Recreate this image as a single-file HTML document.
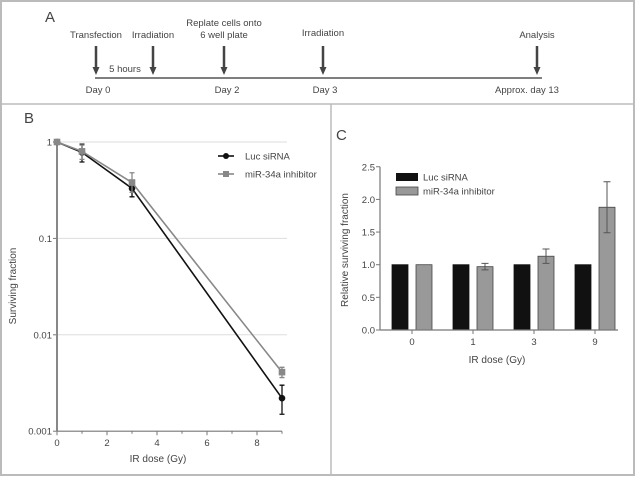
<!DOCTYPE html>
<html><head><meta charset="utf-8"><style>
body{margin:0;background:#fff}
svg{display:block;font-family:"Liberation Sans",sans-serif}
</style></head><body>
<svg id="fig" width="636" height="477" viewBox="0 0 636 477">
<rect x="1" y="1" width="633" height="474" fill="#fff" stroke="#bbb" stroke-width="2"/>
<line x1="1" y1="104" x2="635" y2="104" stroke="#bbb" stroke-width="1.5"/>
<line x1="331" y1="104" x2="331" y2="476" stroke="#bbb" stroke-width="1.5"/>
<g id="panelA" font-size="9.5" fill="#444" text-anchor="middle">
<text x="45" y="22" font-size="15" text-anchor="start">A</text>
<line x1="95" y1="78" x2="542" y2="78" stroke="#555" stroke-width="1.5"/>
</g>
<g id="panelB"></g>
<g id="panelC"></g>
</svg>
<script>
var NS="http://www.w3.org/2000/svg";
function mk(p,t,a,txt){var e=document.createElementNS(NS,t);for(var k in a)e.setAttribute(k,a[k]);if(txt!==undefined)e.textContent=txt;p.appendChild(e);return e;}

// ---------- Panel A: timeline ----------
var tlEvents=[["Transfection"],["Irradiation"],["Replate cells onto","6 well plate"],["Irradiation"],["Analysis"]];
var tlX=[96,153,224,323,537];
var dayLabels=["Day 0","Day 2","Day 3","Approx. day 13"];
var dayX=[98,227,325,527];
var A=document.getElementById('panelA');
tlEvents.forEach(function(lines,i){
  var x=tlX[i];
  var ln=mk(A,'line',{x1:x,y1:46,x2:x,y2:68,stroke:'#444','stroke-width':2.5});
  
  
  var hd=mk(A,'polygon',{points:(x-3.5)+',67 '+(x+3.5)+',67 '+x+',75',fill:'#444'});
  
  
  lines.forEach(function(s,j){
    var y=lines.length>1?26+j*12:(i==3?36:38);
    var t=mk(A,'text',{x:x,y:y},s);
    
    
  });
});
dayLabels.forEach(function(s,i){
  var t=mk(A,'text',{x:dayX[i],y:93},s);
  
  
});
var fh=mk(A,'text',{x:125,y:72},"5 hours");



// ---------- Panel B: survival curves ----------
var doses=[0,1,3,9];
var lucVals=[1,0.78,0.33,0.0022];
var lucLo=[1,0.62,0.27,0.0015];
var lucHi=[1,0.95,0.40,0.0030];
var mirVals=[1,0.80,0.38,0.0041];
var mirLo=[1,0.66,0.30,0.0036];
var mirHi=[1,0.93,0.48,0.0046];
var bXTicks=[0,2,4,6,8];
var bYTicks=[1,0.1,0.01,0.001];
var bYTickLabels=["1","0.1","0.01","0.001"];
var B=document.getElementById('panelB');
function bx(v){return 57+v*25;}
function by(v){return 142-Math.log10(v)*96.4;}
var tb=mk(B,'text',{x:24,y:123,'font-size':15,fill:'#444'},"B");


bYTicks.forEach(function(v,i){
  if(v>0.001){var g=mk(B,'line',{x1:bx(0),y1:by(v),x2:287,y2:by(v),stroke:'#ddd','stroke-width':1});
  
  }
  mk(B,'line',{x1:bx(0)-4,y1:by(v),x2:bx(0),y2:by(v),stroke:'#777','stroke-width':1});
  var t=mk(B,'text',{x:bx(0)-5,y:by(v)+3.5,'font-size':9.5,fill:'#444','text-anchor':'end'},bYTickLabels[i]);
  
  
});
for(var m=0;m<=9;m++){mk(B,'line',{x1:bx(m),y1:by(0.001),x2:bx(m),y2:by(0.001)+(m%2==0?4:2.5),stroke:'#777','stroke-width':1});}
bXTicks.forEach(function(v){
  var t=mk(B,'text',{x:bx(v),y:by(0.001)+15,'font-size':9.5,fill:'#444','text-anchor':'middle'},String(v));
  
  
});
var ya=mk(B,'line',{x1:bx(0),y1:by(1)-2,x2:bx(0),y2:by(0.001),stroke:'#888','stroke-width':2});


var xa=mk(B,'line',{x1:bx(0),y1:by(0.001),x2:bx(9),y2:by(0.001),stroke:'#777','stroke-width':1.2});


var xt=mk(B,'text',{x:158,y:462,'font-size':10,fill:'#444','text-anchor':'middle'},"IR dose (Gy)");


var yt=mk(B,'text',{x:0,y:0,'font-size':10,fill:'#444','text-anchor':'middle',transform:'translate(16,286) rotate(-90)'},"Surviving fraction");


function series(vals,lo,hi,col,shape,name){
  var pts=doses.map(function(d,i){return bx(d)+','+by(vals[i]);}).join(' ');
  var pl=mk(B,'polyline',{points:pts,fill:'none',stroke:col,'stroke-width':1.6});
  
  
  doses.forEach(function(d,i){
    var x=bx(d);
    if(hi[i]!==lo[i]){
      var e=mk(B,'path',{d:'M'+x+','+by(lo[i])+'V'+by(hi[i])+'M'+(x-2.5)+','+by(lo[i])+'h5M'+(x-2.5)+','+by(hi[i])+'h5',stroke:col,'stroke-width':1.3,fill:'none'});
      
      
    }
    var p;
    if(shape=='c')p=mk(B,'circle',{cx:x,cy:by(vals[i]),r:3.3,fill:col});
    else p=mk(B,'rect',{x:x-3.3,y:by(vals[i])-3.3,width:6.6,height:6.6,fill:col});
    
    
  });
}
series(lucVals,lucLo,lucHi,'#111','c','luc-sirna');
series(mirVals,mirLo,mirHi,'#888','s','mir34a-inhibitor');
var l1=mk(B,'line',{x1:218,y1:156,x2:234,y2:156,stroke:'#111','stroke-width':1.6});


mk(B,'circle',{cx:226,cy:156,r:3,fill:'#111'});
var lt1=mk(B,'text',{x:245,y:159.5,'font-size':9.5,fill:'#444'},"Luc siRNA");


var l2=mk(B,'line',{x1:218,y1:174,x2:234,y2:174,stroke:'#888','stroke-width':1.6});


mk(B,'rect',{x:223,y:171,width:6,height:6,fill:'#888'});
var lt2=mk(B,'text',{x:245,y:177.5,'font-size':9.5,fill:'#444'},"miR-34a inhibitor");



// ---------- Panel C: bar chart ----------
var cCats=["0","1","3","9"];
var cLuc=[1,1,1,1];
var cMir=[1,0.97,1.13,1.88];
var cMirErr=[0,0.05,0.11,0.39];
var cYTicks=[0,0.5,1.0,1.5,2.0,2.5];
var cYTickLabels=["0.0","0.5","1.0","1.5","2.0","2.5"];
var C=document.getElementById('panelC');
function cy(v){return 330-v*65.3;}
function cx(i){return 412+i*61;}
var tc=mk(C,'text',{x:336,y:140,'font-size':15,fill:'#444'},"C");


cYTicks.forEach(function(v,i){
  mk(C,'line',{x1:376,y1:cy(v),x2:380,y2:cy(v),stroke:'#777','stroke-width':1});
  var t=mk(C,'text',{x:375,y:cy(v)+3.5,'font-size':9.5,fill:'#444','text-anchor':'end'},cYTickLabels[i]);
  
  
});
cCats.forEach(function(c,i){
  var x=cx(i);
  var b1=mk(C,'rect',{x:x-20,y:cy(cLuc[i]),width:16,height:cy(0)-cy(cLuc[i]),fill:'#111',stroke:'#111','stroke-width':0.8});
  
  
  var b2=mk(C,'rect',{x:x+4,y:cy(cMir[i]),width:16,height:cy(0)-cy(cMir[i]),fill:'#999',stroke:'#444','stroke-width':0.8});
  
  
  if(cMirErr[i]>0){
    var ex=x+12,lo=cy(cMir[i]-cMirErr[i]),hi=cy(cMir[i]+cMirErr[i]);
    var e=mk(C,'path',{d:'M'+ex+','+lo+'V'+hi+'M'+(ex-3.5)+','+lo+'h7M'+(ex-3.5)+','+hi+'h7',stroke:'#555','stroke-width':1,fill:'none'});
    
    
  }
  mk(C,'line',{x1:x,y1:cy(0),x2:x,y2:cy(0)+4,stroke:'#777','stroke-width':1});
  var t=mk(C,'text',{x:x,y:cy(0)+15,'font-size':9.5,fill:'#444','text-anchor':'middle'},c);
  
  
});
var cya=mk(C,'line',{x1:380,y1:cy(2.5),x2:380,y2:cy(0),stroke:'#777','stroke-width':1.2});


var cxa=mk(C,'line',{x1:380,y1:cy(0),x2:618,y2:cy(0),stroke:'#777','stroke-width':1.2});


var cxt=mk(C,'text',{x:497,y:363,'font-size':10,fill:'#444','text-anchor':'middle'},"IR dose (Gy)");


var cyt=mk(C,'text',{x:0,y:0,'font-size':10,fill:'#444','text-anchor':'middle',transform:'translate(348,250) rotate(-90)'},"Relative surviving fraction");


var cl1=mk(C,'rect',{x:396,y:173,width:22,height:8,fill:'#111'});


var ct1=mk(C,'text',{x:423,y:180.5,'font-size':9.5,fill:'#444'},"Luc siRNA");


var cl2=mk(C,'rect',{x:396,y:187,width:22,height:8,fill:'#999',stroke:'#444','stroke-width':0.8});


var ct2=mk(C,'text',{x:423,y:194.5,'font-size':9.5,fill:'#444'},"miR-34a inhibitor");


</script>
</body></html>
